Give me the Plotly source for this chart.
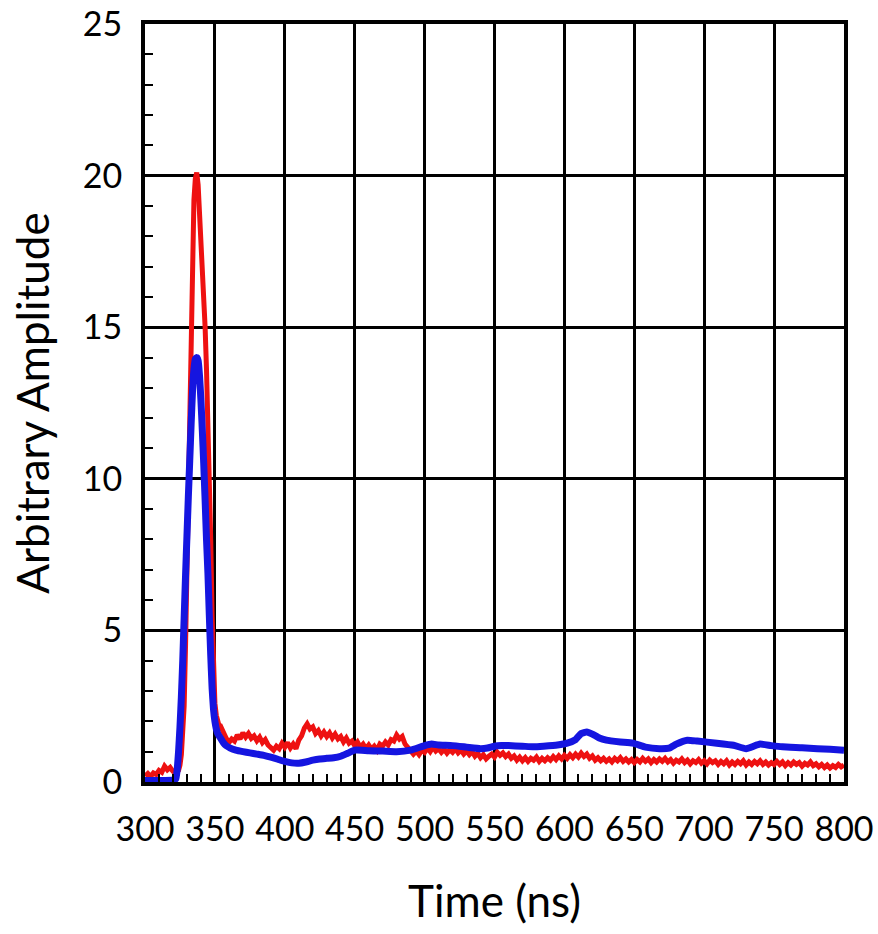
import plotly.graph_objects as go

# Red trace: noisy signal (time in ns, amplitude in arbitrary units)
red_time = (
    [300, 302, 304, 306, 308, 310, 312, 314, 316, 318, 320, 322, 324]
    + list(range(325, 354))
    + list(range(354, 801, 2))
)
red_amp = [
    # 300-324 baseline
    0.20, 0.28, 0.18, 0.30, 0.25, 0.38, 0.32, 0.52, 0.40, 0.48, 0.35, 0.30, 0.38,
    # 325-353 pulse
    0.55, 0.9, 1.5, 2.5, 4.5, 7.0, 10.0, 13.2, 15.8, 17.9, 19.2, 19.9, 20.1,
    19.7, 18.9, 18.1, 17.2, 16.2, 15.0, 13.6, 12.0, 10.5, 8.0, 5.5, 3.4,
    2.6, 2.2, 1.95, 1.85,
    # 354-400
    1.85, 1.62, 1.45, 1.30, 1.42, 1.35, 1.55, 1.42, 1.62, 1.48, 1.60, 1.44,
    1.52, 1.36, 1.48, 1.30, 1.40, 1.22, 1.15, 1.05, 1.18, 1.10, 1.28, 1.15,
    # 402-450
    1.30, 1.12, 1.25, 1.10, 1.38, 1.52, 1.78, 1.92, 1.75, 1.82, 1.60, 1.70,
    1.52, 1.65, 1.50, 1.62, 1.45, 1.58, 1.42, 1.50, 1.32, 1.45, 1.28, 1.35, 1.20,
    # 452-500
    1.32, 1.15, 1.25, 1.10, 1.22, 1.08, 1.18, 1.05, 1.25, 1.18, 1.32, 1.22,
    1.40, 1.35, 1.55, 1.42, 1.50, 1.25, 1.12, 0.98, 0.92, 1.02, 0.90, 1.05, 0.98,
    # 502-550
    1.12, 1.00, 1.15, 1.02, 1.10, 0.98, 1.08, 0.95, 1.06, 0.98, 1.10, 0.96,
    1.05, 0.92, 1.02, 0.90, 1.00, 0.85, 0.95, 0.80, 0.90, 0.76, 0.85, 0.92, 0.82,
    # 552-600
    0.98, 0.88, 0.96, 0.84, 0.92, 0.78, 0.86, 0.72, 0.82, 0.70, 0.80, 0.68,
    0.78, 0.72, 0.82, 0.68, 0.78, 0.70, 0.80, 0.72, 0.84, 0.74, 0.86, 0.76, 0.88,
    # 602-650
    0.78, 0.90, 0.80, 0.92, 0.82, 0.95, 0.84, 0.92, 0.78, 0.86, 0.72, 0.80,
    0.70, 0.78, 0.68, 0.76, 0.66, 0.78, 0.70, 0.80, 0.68, 0.76, 0.66, 0.74, 0.64,
    # 652-700
    0.74, 0.66, 0.78, 0.68, 0.76, 0.64, 0.74, 0.66, 0.76, 0.68, 0.78, 0.66,
    0.74, 0.62, 0.72, 0.66, 0.76, 0.64, 0.72, 0.60, 0.70, 0.64, 0.74, 0.62, 0.70,
    # 702-750
    0.60, 0.72, 0.64, 0.70, 0.58, 0.68, 0.60, 0.70, 0.56, 0.66, 0.58, 0.68,
    0.60, 0.70, 0.56, 0.66, 0.58, 0.68, 0.60, 0.70, 0.58, 0.66, 0.56, 0.64, 0.58,
    # 752-800
    0.68, 0.58, 0.66, 0.54, 0.64, 0.56, 0.66, 0.58, 0.64, 0.52, 0.62, 0.56,
    0.66, 0.54, 0.60, 0.50, 0.58, 0.48, 0.56, 0.46, 0.54, 0.48, 0.58, 0.50, 0.56,
]

# Blue trace: smoother signal
blue_time = [
    300, 310, 320, 322, 323, 324, 325, 326, 327, 328, 329, 330, 331, 332, 333,
    334, 335, 336, 337, 338, 339, 340, 341, 342, 343, 344, 345, 346, 347, 348,
    349, 350, 351, 352, 354, 356, 358, 361, 365, 370, 375, 380, 385, 390, 395,
    400, 405, 410, 415, 420, 425, 430, 435, 440, 445, 450, 455, 460, 470, 480,
    490, 500, 505, 510, 520, 530, 540, 545, 550, 555, 560, 570, 578, 585, 595,
    602, 608, 612, 616, 620, 625, 630, 640, 649, 658, 668, 675, 680, 688, 695,
    709, 721, 730, 740, 748, 756, 770, 781, 790, 800,
]
blue_amp = [
    0.05, 0.05, 0.06, 0.1, 0.4, 1.0, 1.8, 2.8, 4.0, 5.4, 6.8, 8.1, 9.4, 10.6, 11.8,
    12.9, 13.6, 13.95, 14.0, 13.9, 13.4, 12.6, 11.6, 10.5, 9.3, 8.0, 6.9, 5.5, 4.2, 3.1,
    2.4, 2.0, 1.75, 1.6, 1.45, 1.3, 1.2, 1.12, 1.05, 1.0, 0.96, 0.92, 0.88, 0.82, 0.75,
    0.68, 0.63, 0.62, 0.66, 0.72, 0.76, 0.78, 0.8, 0.85, 0.95, 1.05, 1.05, 1.03, 1.02, 1.0,
    1.05, 1.2, 1.25, 1.22, 1.2, 1.15, 1.1, 1.12, 1.18, 1.2, 1.2, 1.18, 1.16, 1.18, 1.22,
    1.28, 1.4, 1.6, 1.65, 1.58, 1.45, 1.38, 1.32, 1.28, 1.15, 1.1, 1.12, 1.25, 1.38, 1.35,
    1.28, 1.21, 1.1, 1.25, 1.2, 1.16, 1.13, 1.1, 1.08, 1.05,
]

x_ticks = [300, 350, 400, 450, 500, 550, 600, 650, 700, 750, 800]
y_ticks = [0, 5, 10, 15, 20, 25]

FONT = "Lato"

fig = go.Figure()
fig.add_trace(go.Scatter(
    x=red_time, y=red_amp, mode="lines",
    line=dict(color="#ee1111", width=5), showlegend=False,
))
fig.add_trace(go.Scatter(
    x=blue_time, y=blue_amp, mode="lines",
    line=dict(color="#1515e0", width=7, shape="spline", smoothing=0.4),
    showlegend=False,
))

axis_common = dict(
    showgrid=True, gridcolor="black", gridwidth=2.5,
    showline=True, linecolor="black", linewidth=4, mirror=True,
    zeroline=False, ticks="inside", ticklen=8, tickwidth=2, tickcolor="black",
    tickfont=dict(family=FONT, size=34, color="black"),
    ticklabeloverflow="allow", automargin=False,
)

fig.update_xaxes(
    range=[300, 800], tickvals=x_ticks, ticktext=[str(v) for v in x_ticks],
    minor=dict(ticks="inside", ticklen=8, tickwidth=2, tickcolor="black",
               dtick=10, tick0=300, showgrid=False),
    title=dict(text="Time (ns)", font=dict(family=FONT, size=44, color="black"),
               standoff=40),
    ticklabelstandoff=14,
    **axis_common,
)
fig.update_yaxes(
    range=[0, 25], tickvals=y_ticks, ticktext=[str(v) for v in y_ticks],
    minor=dict(ticks="inside", ticklen=8, tickwidth=2, tickcolor="black",
               dtick=1, tick0=0, showgrid=False),
    title=dict(text="Arbitrary Amplitude", font=dict(family=FONT, size=44, color="black"),
               standoff=20),
    ticklabelstandoff=12,
    **axis_common,
)

fig.update_layout(
    width=878, height=934,
    margin=dict(l=145, r=34, t=24, b=152),
    plot_bgcolor="white", paper_bgcolor="white",
    font=dict(family=FONT, color="black"),
)

fig.write_html("out.html")
